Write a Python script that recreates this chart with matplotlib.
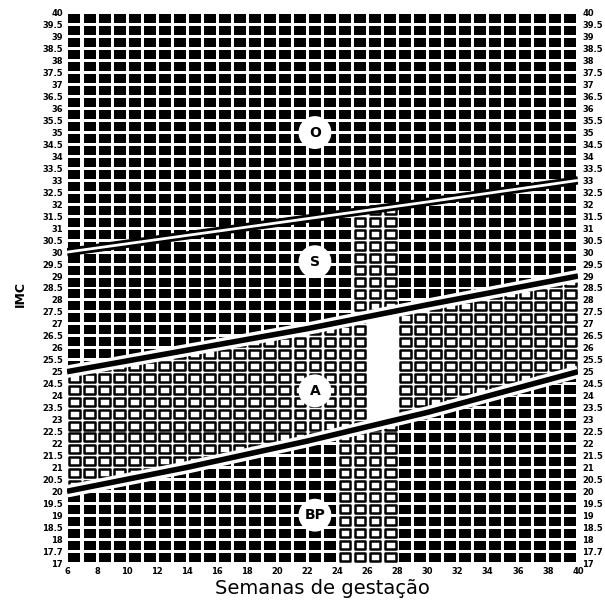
import matplotlib
matplotlib.use("Agg")
import matplotlib.pyplot as plt
from matplotlib.patches import Rectangle
from matplotlib.collections import PatchCollection
import numpy as np

# limites das faixas de IMC por semana de gestacao
semanas = [6, 14, 22, 30, 40]
imc_baixo_peso = [20.0, 21.0, 22.1, 23.3, 25.0]
imc_adequado = [25.0, 25.9, 26.8, 27.8, 29.0]
imc_sobrepeso = [30.0, 30.7, 31.4, 32.1, 33.0]

zonas = ["O", "S", "A", "BP"]
zona_x = [22.5, 22.5, 22.5, 22.5]
zona_y = [35.0, 29.6, 24.2, 19.0]

xticks = list(range(6, 41, 2))
yticks = list(np.arange(17, 40.01, 0.5))
ylabels = ["17", "17.7"] + [("%g" % v) for v in yticks[2:]]

fig = plt.figure(figsize=(6.05, 6.01), dpi=100)
ax = fig.add_axes([0.1107, 0.0632, 0.8446, 0.9152])
ax.set_facecolor("white")

gx, gy = 0.1, 0.0625
black_cells = []
hollow_cells = []
for xi in range(6, 40):
    xc = xi + 0.5
    lo = np.interp(xc, semanas, imc_baixo_peso)
    mid = np.interp(xc, semanas, imc_adequado)
    hi = np.interp(xc, semanas, imc_sobrepeso)
    for yj in np.arange(17, 40, 0.5):
        yc = yj + 0.25
        r = Rectangle((xi + gx + 0.04, yj + gy + 0.02), 1 - 2 * gx - 0.08, 0.5 - 2 * gy - 0.04)
        if lo < yc < mid:
            # faixa adequada: quadrados vazados (faixa clara no meio)
            if xi in (26, 27):
                continue
            hollow_cells.append(r)
        elif mid < yc < hi and xi in (25, 26, 27):
            hollow_cells.append(r)
        elif yc < lo and xi in (24, 25, 26, 27):
            hollow_cells.append(r)
        else:
            black_cells.append(Rectangle((xi + gx, yj + gy), 1 - 2 * gx, 0.5 - 2 * gy))

ax.add_collection(PatchCollection(black_cells, facecolor="black", edgecolor="none", zorder=1))
ax.add_collection(PatchCollection(hollow_cells, facecolor="white", edgecolor="black", linewidth=1.8, zorder=1))

# linhas de corte
ax.plot(semanas, imc_sobrepeso, color="black", lw=6, zorder=3, solid_capstyle="butt")
ax.plot(semanas, imc_sobrepeso, color="white", lw=2, zorder=4, solid_capstyle="butt")
for lim in (imc_adequado, imc_baixo_peso):
    ax.plot(semanas, lim, color="white", lw=9, zorder=3, solid_capstyle="butt")
    ax.plot(semanas, lim, color="black", lw=4, zorder=4, solid_capstyle="butt")

ax.scatter(zona_x, zona_y, s=560, c="white", edgecolors="none", zorder=5)
for z, x, y in zip(zonas, zona_x, zona_y):
    ax.text(x, y, z, ha="center", va="center", fontsize=10, fontweight="bold", zorder=6)

ax.set_xlim(6, 40)
ax.set_ylim(17, 40)
ax.set_xticks(xticks)
ax.set_xticklabels([str(t) for t in xticks], fontsize=6, fontweight="bold")
ax.set_yticks(yticks)
ax.set_yticklabels(ylabels, fontsize=6, fontweight="bold")
ax.tick_params(length=0, pad=3, labelright=True)
for s in ax.spines.values():
    s.set_visible(False)

ax.set_xlabel("Semanas de gestação", fontsize=14, labelpad=2)
fig.text(0.033, 0.51, "IMC", rotation=90, fontsize=9, fontweight="bold", ha="center", va="center")

fig.savefig("out.png", dpi=100)
